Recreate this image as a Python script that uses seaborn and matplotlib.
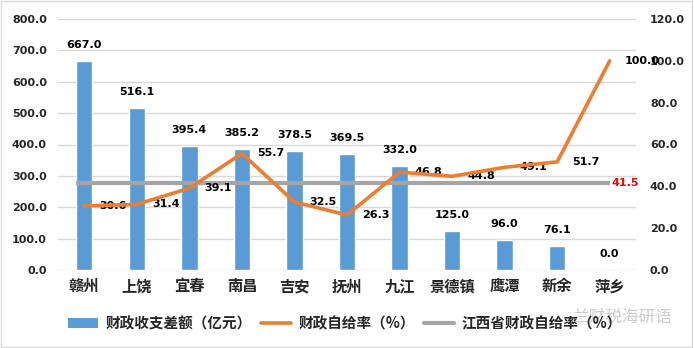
import matplotlib
matplotlib.use("Agg")
import matplotlib.pyplot as plt
import seaborn as sns
import numpy as np
import pandas as pd
from matplotlib.patches import Patch, Rectangle
from matplotlib.lines import Line2D

cities = ["赣州", "上饶", "宜春", "南昌", "吉安", "抚州", "九江", "景德镇", "鹰潭", "新余", "萍乡"]
gap = [667.0, 516.1, 395.4, 385.2, 378.5, 369.5, 332.0, 125.0, 96.0, 76.1, 0.0]
rate = [30.6, 31.4, 39.1, 55.7, 32.5, 26.3, 46.8, 44.8, 49.1, 51.7, 100.0]
province_rate = 41.5
left_ticks = [0, 100, 200, 300, 400, 500, 600, 700, 800]
right_ticks = [0, 20, 40, 60, 80, 100, 120]
legend_labels = ["财政收支差额（亿元）", "财政自给率（%）", "江西省财政自给率（%）"]
watermark = "兰财税海研语"

sns.set_theme(style="white")
plt.rcParams["font.family"] = ["Noto Sans CJK SC", "DejaVu Sans"]

BLUE = "#5B9BD5"
ORANGE = "#ED7D31"
GRAY = "#A5A5A5"

idx = np.arange(len(cities))
df = pd.DataFrame({"city": cities, "gap": gap, "rate": rate, "idx": idx})

fig = plt.figure(figsize=(6.94, 3.48), dpi=100)
ax = fig.add_axes([58 / 694, 1 - 270 / 348, (636 - 58) / 694, (270 - 19) / 348])

sns.barplot(data=df, x="city", y="gap", color=BLUE, width=0.31, ax=ax,
            saturation=1, zorder=2)
ax.set_xlim(-0.5, len(cities) - 0.5)
ax.set_ylim(0, 800)
ax.set_yticks(left_ticks)
ax.set_yticklabels([f"{v:.1f}" for v in left_ticks], family="DejaVu Sans",
                   fontweight="bold", fontsize=8)
ax.set_xticks(idx)
ax.set_xticklabels(cities, fontsize=11, fontweight="bold")
ax.set_xlabel("")
ax.set_ylabel("")
ax.grid(axis="y", color="#D9D9D9", linewidth=1, zorder=0)
ax.set_axisbelow(True)
for s in ax.spines.values():
    s.set_visible(False)
ax.tick_params(axis="y", length=0, pad=8)
ax.tick_params(axis="x", length=0, pad=6)

for i, v in enumerate(gap):
    ax.annotate(f"{v:.1f}", (i, v), xytext=(0, 8), textcoords="offset points",
                ha="center", va="bottom", fontsize=8, fontweight="bold",
                family="DejaVu Sans", color="black")

ax2 = ax.twinx()
prov_df = pd.DataFrame({"x": [-0.15, len(cities) - 1], "y": [province_rate, province_rate]})
sns.lineplot(data=prov_df, x="x", y="y", color=GRAY, linewidth=3, ax=ax2,
             solid_capstyle="butt", zorder=3)
sns.lineplot(data=df, x="idx", y="rate", color=ORANGE, linewidth=2.6, ax=ax2,
             solid_capstyle="round", solid_joinstyle="round", zorder=4)
ax2.set_ylim(0, 120)
ax2.set_xlim(-0.5, len(cities) - 0.5)
ax2.set_yticks(right_ticks)
ax2.set_yticklabels([f"{v:.1f}" for v in right_ticks], family="DejaVu Sans",
                    fontweight="bold", fontsize=8)
ax2.tick_params(axis="y", length=0, pad=10)
ax2.set_xlabel("")
ax2.set_ylabel("")
ax2.grid(False)
for s in ax2.spines.values():
    s.set_visible(False)

for i, v in enumerate(rate):
    ax2.annotate(f"{v:.1f}", (i, v), xytext=(11, 0), textcoords="offset points",
                 ha="left", va="center", fontsize=8, fontweight="bold",
                 family="DejaVu Sans", color="black")
ax2.annotate(f"{province_rate:.1f}", (len(cities) - 1, province_rate), xytext=(1, 0),
             textcoords="offset points", ha="left", va="center", fontsize=8,
             fontweight="bold", family="DejaVu Sans", color="#FF0000")

handles = [Patch(facecolor=BLUE, edgecolor="none"),
           Line2D([], [], color=ORANGE, linewidth=2.6),
           Line2D([], [], color=GRAY, linewidth=3)]
leg = fig.legend(handles, legend_labels, loc="center", bbox_to_anchor=(0.497, 0.072),
                 ncol=3, frameon=False, prop={"size": 10.5, "weight": "bold",
                                              "family": ["Noto Sans CJK SC", "DejaVu Sans"]},
                 handlelength=2.1, handletextpad=0.5, columnspacing=0.6)

fig.text(622 / 694, 1 - 317 / 348, watermark, ha="center", va="center",
         fontsize=12, color="#AAAAAA", alpha=0.6)

fig.patches.append(Rectangle((0.002, 0.003), 0.995, 0.994, transform=fig.transFigure,
                             fill=False, edgecolor="#D9D9D9", linewidth=1))

fig.savefig("out.png", dpi=100)
